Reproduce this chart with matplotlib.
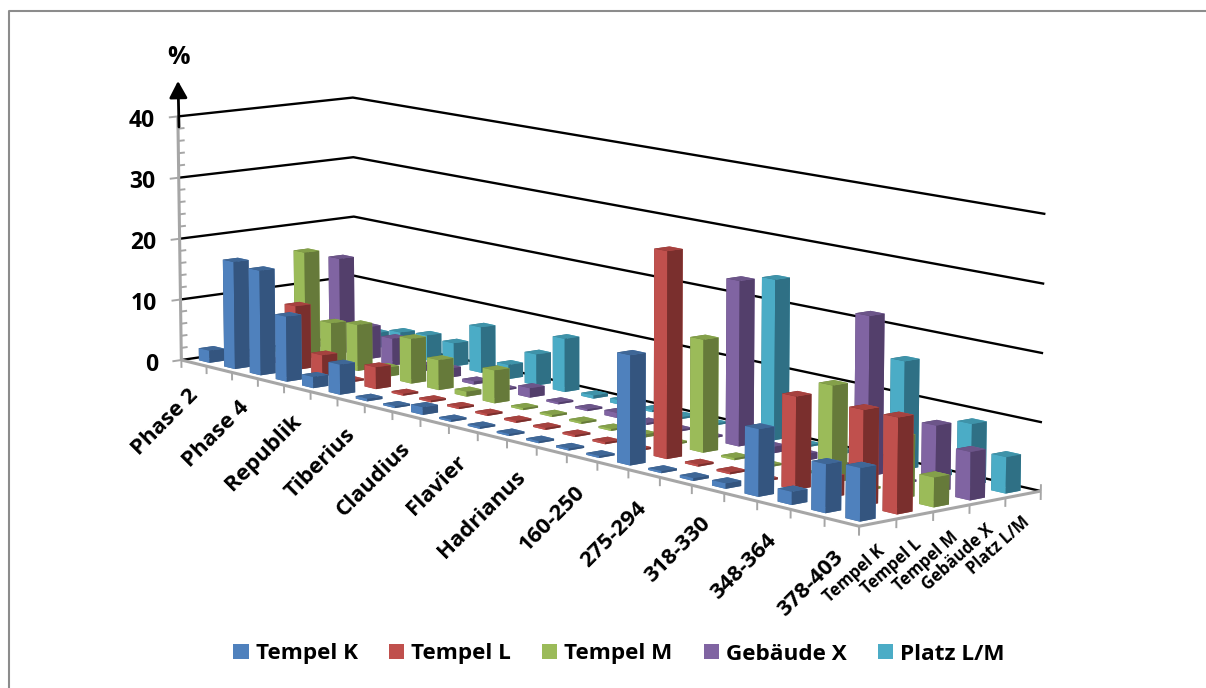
import numpy as np
import matplotlib
matplotlib.use('Agg')
import matplotlib.pyplot as plt
from matplotlib.lines import Line2D
from matplotlib.patches import Patch
from mpl_toolkits.mplot3d import proj3d

W, H = 1206, 688
plt.rcParams['font.family'] = ['Open Sans', 'DejaVu Sans']
plt.rcParams['font.weight'] = 'bold'

series_names = ['Tempel K', 'Tempel L', 'Tempel M', 'Gebäude X', 'Platz L/M']
cat_labels = ['Phase 2', '', 'Phase 4', '', 'Republik', '', 'Tiberius', '', 'Claudius', '', 'Flavier', '',
              'Hadrianus', '', '160-250', '', '275-294', '', '318-330', '', '348-364', '', '378-403']
tempel_k = [2.0, 17.5, 17.0, 10.5, 1.8, 4.8, 0.4, 0.3, 1.2, 0.3, 0.3, 0.3, 0.3, 0.3, 0.3, 16.4, 0.3, 0.4, 0.8, 9.8, 1.9, 7.0, 7.6]
tempel_l = [0.3, 0.3, 10.4, 3.4, 0.3, 3.5, 0.3, 0.3, 0.3, 0.3, 0.3, 0.3, 0.3, 0.3, 0.3, 31.0, 0.3, 0.3, 0.3, 13.6, 3.0, 13.8, 13.8]
tempel_m = [0.3, 17.5, 6.8, 7.5, 1.5, 7.2, 4.8, 0.8, 5.2, 0.3, 0.3, 0.3, 0.3, 0.5, 0.3, 17.0, 0.3, 0.3, 0.3, 14.3, 0.3, 9.0, 4.3]
gebaeude_x = [0.3, 15.7, 5.3, 4.4, 1.0, 1.5, 0.5, 0.3, 1.5, 0.3, 0.3, 0.8, 0.3, 0.3, 0.3, 25.0, 1.0, 1.0, 0.5, 23.6, 0.3, 9.7, 7.0]
platz_lm = [0.3, 2.5, 3.6, 4.1, 3.8, 7.4, 2.3, 5.0, 8.5, 0.5, 0.7, 0.3, 0.3, 0.3, 0.3, 24.4, 0.3, 0.5, 0.5, 16.1, 0.8, 9.0, 5.3]
all_series = [tempel_k, tempel_l, tempel_m, gebaeude_x, platz_lm]

front_cols = ['#4F81BD', '#C0504D', '#9BBB59', '#8064A2', '#4BACC6']
side_cols = ['#34557F', '#7A2F2D', '#667A3A', '#533F6B', '#2F7085']
top_cols = ['#3F6797', '#A6423F', '#84A04A', '#6C5589', '#3F93A9']
axis_col = '#A6A6A6'

n_cat = len(cat_labels)
n_ser = len(series_names)
z_max = 40

fig = plt.figure(figsize=(W / 100, H / 100), dpi=100)
ax = fig.add_subplot(projection='3d', computed_zorder=False)
ax.set_xlim(0, n_cat, view_margin=0)
ax.set_ylim(0, n_ser, view_margin=0)
ax.set_zlim(0, z_max, view_margin=0)

# camera and box, the axes square is placed in pixels
ax.set_box_aspect((1, 0.2206, 0.2486), zoom=np.exp(0.1777))
ax.view_init(elev=9.934, azim=-40.0224)
S, cx, cy = 4901.21, 582.70, 292.18
side = S * 0.185
ax.set_position([(cx - S * 0.095) / W, 1 - (cy + S * 0.095) / H, side / W, side / H])
ax.patch.set_alpha(0)
ax.set_axis_off()


def line3(xs, ys, zs, col, lw, zo=1):
    ax.plot(xs, ys, zs, color=col, lw=lw, zorder=zo, clip_on=False, solid_capstyle='butt')


def label3(x, y, z, s, **kw):
    # Text3D ignores rotation, so project the anchor and place plain text
    px, py, _ = proj3d.proj_transform(x, y, z, ax.get_proj())
    ax.text2D(px, py, s, transform=ax.transData, color='black', zorder=500, clip_on=False, **kw)


# black lines on the two walls
for z in range(0, z_max + 1, 10):
    line3([0, 0, n_cat], [0, n_ser, n_ser], [z, z, z], 'black', 1.7)

# value axis with its ticks
line3([0, 0], [0, 0], [0, z_max], axis_col, 2.2)
for z in range(0, z_max + 1, 2):
    if z % 10 == 0:
        line3([0, 0], [-0.25, 0], [z, z], axis_col, 1.4)
        label3(0, -0.65, z - 0.25, str(z), ha='right', va='center', fontsize=16.5)
    else:
        line3([0, 0], [0, 0.18], [z, z], axis_col, 1.4)

# floor edges with ticks pointing down
line3([0, n_cat, n_cat], [0, 0, n_ser], [0, 0, 0], axis_col, 2.2, zo=1)
for i in range(n_cat + 1):
    line3([i, i], [0, 0], [-1.3, 0], axis_col, 1.4)
for r in range(n_ser + 1):
    line3([n_cat, n_cat], [r, r], [-1.3, 0], axis_col, 1.4)
line3([n_cat, n_cat], [n_ser, n_ser], [0, 1.0], axis_col, 1.4)

# bars from the far corner to the near one
bw = 0.42
zo = 2
for r in range(n_ser - 1, -1, -1):
    for i in range(n_cat):
        cols = [top_cols[r], top_cols[r], front_cols[r], front_cols[r], side_cols[r], side_cols[r]]
        bar = ax.bar3d(i + 0.5 - bw / 2, r + 0.5 - bw / 2, 0, bw, bw, all_series[r][i],
                       color=cols, shade=False, zorder=zo, linewidth=0)
        bar.set_clip_on(False)
        zo += 1

# axis texts
for i, name in enumerate(cat_labels):
    if name:
        label3(i + 0.25, 0, -3.8, name, rotation=45, rotation_mode='anchor', ha='right', va='top', fontsize=16)
for r, name in enumerate(series_names):
    label3(n_cat, r + 0.45, -2.7, name, rotation=42, rotation_mode='anchor', ha='right', va='top', fontsize=12)

# unit arrow above the value axis
ax.annotate('', xy=(178, H - 81), xytext=(179, H - 127), xycoords='figure pixels', textcoords='figure pixels',
            arrowprops=dict(arrowstyle='-|>,head_length=0.63,head_width=0.34', color='black', lw=2,
                            mutation_scale=16, shrinkA=0, shrinkB=0))
fig.text(179 / W, 1 - 57 / H, '%', ha='center', va='center', fontsize=18, color='black')

handles = [Patch(facecolor=c, label=n) for c, n in zip(front_cols, series_names)]
fig.legend(handles=handles, ncol=n_ser, frameon=False, loc='center', bbox_to_anchor=(619 / W, 1 - 654 / H),
           fontsize=16.2, handlelength=0.68, handleheight=0.68, handletextpad=0.32, columnspacing=1.37)

# chart frame, top and left only
fig.add_artist(Line2D([9 / W, 9 / W, 1], [0, 1 - 11 / H, 1 - 11 / H], color='#8C8C8C', lw=1.5))

fig.savefig('out.png', dpi=100)
